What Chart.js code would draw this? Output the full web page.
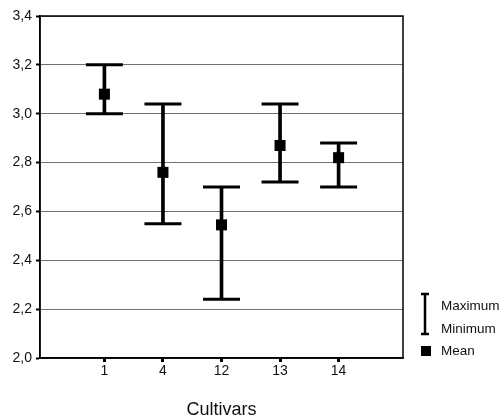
<!DOCTYPE html>
<html>
<head>
<meta charset="utf-8">
<script src="https://cdn.jsdelivr.net/npm/chart.js@4.4.0/dist/chart.umd.min.js"></script>
<style>
html,body{margin:0;padding:0;background:#fff;}
#wrap{width:501px;height:419px;position:relative;}
</style>
</head>
<body>
<div id="wrap"><canvas id="c" width="501" height="419"></canvas></div>
<script>
const cultivars = ['1', '4', '12', '13', '14'];
const maxValues = [3.20, 3.04, 2.70, 3.04, 2.88];
const minValues = [3.00, 2.55, 2.24, 2.72, 2.70];
const meanValues = [3.08, 2.76, 2.545, 2.87, 2.82];
const yTicks = [2.0, 2.2, 2.4, 2.6, 2.8, 3.0, 3.2, 3.4];
const legendLabels = ['Maximum', 'Minimum', 'Mean'];
const axisTitle = 'Cultivars';

const FONT = '"Liberation Sans", Arial, sans-serif';

const boxAndLegend = {
  id: 'boxAndLegend',
  afterDraw(chart) {
    const ctx = chart.ctx;
    const a = chart.chartArea;
    ctx.save();
    ctx.strokeStyle = '#000';
    ctx.lineWidth = 1.5;
    ctx.strokeRect(a.left, a.top, a.right - a.left, a.bottom - a.top);
    // legend
    const cx = 425;
    ctx.lineWidth = 2.5;
    ctx.beginPath();
    ctx.moveTo(cx, 293); ctx.lineTo(cx, 335);
    ctx.moveTo(cx - 4, 294); ctx.lineTo(cx + 4, 294);
    ctx.moveTo(cx - 4, 334); ctx.lineTo(cx + 4, 334);
    ctx.stroke();
    ctx.fillStyle = '#000';
    ctx.fillRect(421, 346, 10, 10);
    ctx.font = '13.5px ' + FONT;
    ctx.fillStyle = '#111';
    ctx.textBaseline = 'middle';
    ctx.textAlign = 'left';
    ctx.fillText(legendLabels[0], 441, 306);
    ctx.fillText(legendLabels[1], 441, 329);
    ctx.fillText(legendLabels[2], 441, 351);
    ctx.restore();
  }
};

new Chart(document.getElementById('c'), {
  type: 'bar',
  data: {
    datasets: [
      {
        type: 'bar',
        data: cultivars.map((c, i) => ({x: i, y: [minValues[i], maxValues[i]]})),
        backgroundColor: '#000',
        borderWidth: 0,
        barThickness: 3,
        grouped: false,
        order: 3
      },
      {
        type: 'line',
        data: cultivars.map((c, i) => ({x: i, y: maxValues[i]})),
        showLine: false,
        pointStyle: 'line',
        pointRadius: 18.5,
        pointBorderWidth: 3,
        pointBorderColor: '#000',
        order: 2
      },
      {
        type: 'line',
        data: cultivars.map((c, i) => ({x: i, y: minValues[i]})),
        showLine: false,
        pointStyle: 'line',
        pointRadius: 18.5,
        pointBorderWidth: 3,
        pointBorderColor: '#000',
        order: 2
      },
      {
        type: 'line',
        data: cultivars.map((c, i) => ({x: i, y: meanValues[i]})),
        showLine: false,
        pointStyle: 'rect',
        pointRadius: 7.8,
        pointBackgroundColor: '#000',
        pointBorderWidth: 0,
        order: 1
      }
    ]
  },
  options: {
    responsive: false,
    animation: false,
    events: [],
    layout: {autoPadding: false, padding: {top: 16, right: 98, left: 0, bottom: 0}},
    plugins: {legend: {display: false}, tooltip: {enabled: false}},
    scales: {
      x: {
        type: 'linear',
        min: -1.1,
        max: 5.1,
        offset: false,
        afterFit: s => { s.height = 61; s.paddingLeft = 0; s.paddingRight = 0; },
        afterBuildTicks: s => { s.ticks = cultivars.map((c, i) => ({value: i})); },
        ticks: {
          callback: (v) => cultivars[v],
          font: {family: FONT, size: 14},
          color: '#111',
          padding: 1,
          maxRotation: 0,
          autoSkip: false
        },
        grid: {offset: false, drawOnChartArea: false, drawTicks: true, tickLength: 4, tickWidth: 3, tickColor: '#000'},
        border: {display: true, color: '#000', width: 1.5},
        title: {display: true, text: axisTitle, font: {family: FONT, size: 18}, color: '#111', padding: {top: 0, bottom: -2}}
      },
      y: {
        min: 2.0,
        max: 3.4,
        afterFit: s => { s.width = 40; s.paddingTop = 0; s.paddingBottom = 0; },
        afterBuildTicks: s => { s.ticks = yTicks.map(v => ({value: v})); },
        ticks: {
          callback: v => v.toFixed(1).replace('.', ','),
          font: {family: FONT, size: 14},
          color: '#111',
          padding: 4
        },
        grid: {color: '#707070', lineWidth: 1, tickLength: 4, tickWidth: 2, tickColor: '#000'},
        border: {display: true, color: '#000', width: 1.5}
      }
    }
  },
  plugins: [boxAndLegend]
});
</script>
</body>
</html>
